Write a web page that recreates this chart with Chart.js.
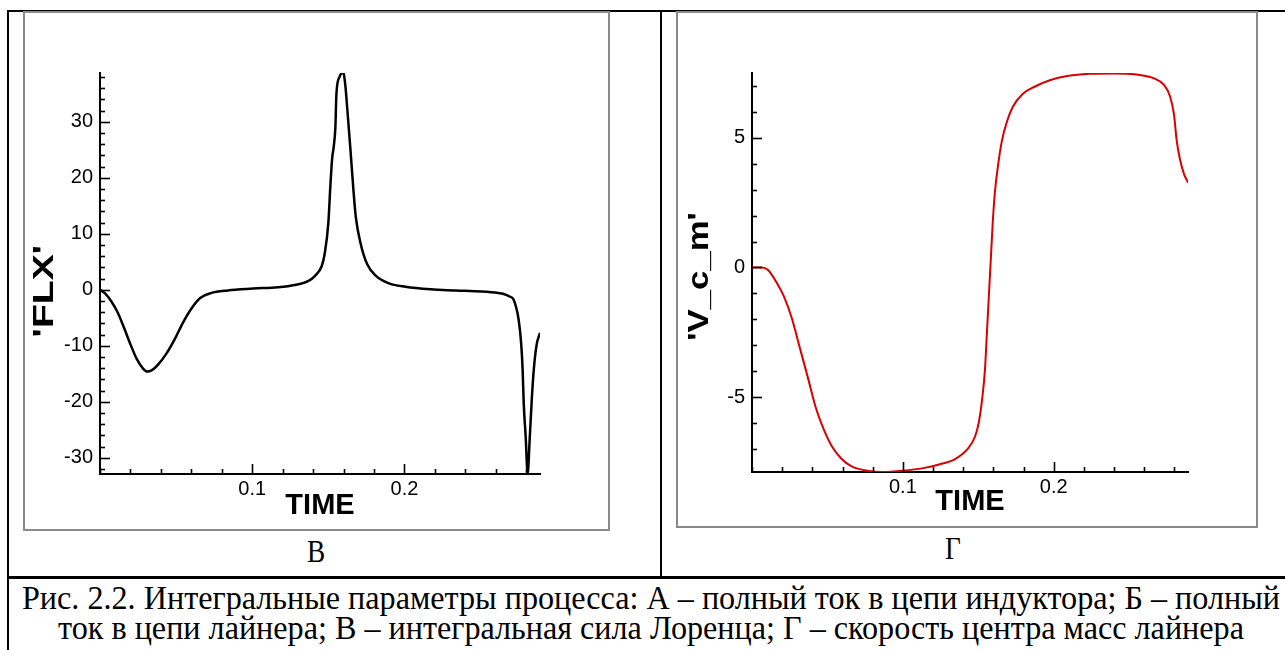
<!DOCTYPE html>
<html lang="ru">
<head>
<meta charset="utf-8">
<title>Рис. 2.2</title>
<script src="https://cdn.jsdelivr.net/npm/chart.js@4/dist/chart.umd.min.js"></script>
<style>
  html, body { margin: 0; padding: 0; background: #fff; }
  body { width: 1285px; height: 650px; position: relative; overflow: hidden; }
  .rule { position: absolute; background: #000; }
  .frame { position: absolute; box-sizing: border-box; border: 2px solid #8a8a8a; }
  canvas { position: absolute; }
  .panel { position: absolute; font-family: "Liberation Serif", "Times New Roman", serif;
           font-size: 31px; line-height: 31px; color: #000; transform: translateX(-50%) scaleX(0.88); }
  .cap { position: absolute; left: 0; width: 1302px; text-align: center; white-space: nowrap;
         font-family: "Liberation Serif", "Times New Roman", serif; color: #000;
         transform-origin: 651px 50%; }
</style>
</head>
<body>
<!-- table rules -->
<div class="rule" style="left:7px; top:10px; width:1278px; height:2px;"></div>
<div class="rule" style="left:7px; top:10px; width:2px; height:640px;"></div>
<div class="rule" style="left:660px; top:10px; width:2px; height:567px;"></div>
<div class="rule" style="left:7px; top:576px; width:1278px; height:3px;"></div>

<!-- plot frames -->
<div class="frame" style="left:23px; top:11px; width:587px; height:520px;"></div>
<div class="frame" style="left:676px; top:11px; width:582px; height:517px;"></div>

<canvas id="flxChart" width="583" height="516" style="left:25px; top:13px;"></canvas>
<canvas id="vcmChart" width="578" height="513" style="left:678px; top:13px;"></canvas>

<div class="panel" style="left:316px; top:536px;">В</div>
<div class="panel" style="left:953px; top:533px;">Г</div>

<div class="cap" id="cap1">Рис. 2.2. Интегральные параметры процесса: А – полный ток в цепи индуктора; Б – полный</div>
<div class="cap" id="cap2">ток в цепи лайнера; В – интегральная сила Лоренца; Г – скорость центра масс лайнера</div>

<script>
// Integral Lorentz force 'FLX' versus TIME
const flxTime = [0, 0.0033, 0.0075, 0.0117, 0.0158, 0.0200, 0.0242, 0.0283, 0.0310, 0.0339,
  0.0380, 0.0436, 0.0492, 0.0547, 0.0603, 0.0658, 0.0728, 0.0839, 0.1006, 0.1170,
  0.1280, 0.1367, 0.1414, 0.1456, 0.1475, 0.1500, 0.1513, 0.1525, 0.1535, 0.1546,
  0.1553, 0.1572, 0.1592, 0.1600, 0.1612, 0.1625, 0.1645, 0.1664, 0.1680, 0.1714,
  0.1756, 0.1811, 0.1894, 0.2006, 0.2172, 0.2339, 0.2506, 0.2617, 0.2651, 0.2690,
  0.2717, 0.2750, 0.2766, 0.2776, 0.2783, 0.2796, 0.2809, 0.2822, 0.2836, 0.2849,
  0.2868, 0.2890];
const flxValue = [0, -0.66, -2.1, -4.1, -6.8, -9.75, -12.4, -14.07, -14.6, -14.4,
  -13.4, -11.4, -8.76, -5.77, -3.25, -1.46, -0.6, -0.13, 0.2, 0.46,
  0.86, 1.53, 2.52, 4.2, 6.3, 12.0, 18.5, 23.5, 25.5, 29.0,
  35.0, 37.9, 38.7, 38.6, 36.3, 32.0, 25.0, 18.0, 13.0, 8.0,
  4.5, 2.52, 1.19, 0.53, 0.07, -0.13, -0.33, -0.6, -0.75, -1.2,
  -1.8, -5.4, -9.5, -14.3, -20.2, -26.3, -32.9, -26.8, -19.6, -14.3,
  -9.8, -7.7];

// Liner centre-of-mass velocity 'V_c_m' versus TIME
const vcmTime = [0, 0.0066, 0.0106, 0.0158, 0.0210, 0.0264, 0.0317, 0.0370, 0.0422, 0.0475,
  0.0528, 0.0594, 0.0660, 0.0765, 0.0870, 0.1000, 0.1135, 0.1240, 0.1346, 0.1425,
  0.1478, 0.1504, 0.1525, 0.1544, 0.1557, 0.1570, 0.1583, 0.1596, 0.1610, 0.1630,
  0.1657, 0.1689, 0.1728, 0.1794, 0.1873, 0.1979, 0.2110, 0.2243, 0.2400, 0.2560,
  0.2665, 0.2731, 0.2770, 0.2797, 0.2815, 0.2836, 0.2863, 0.2892];
const vcmValue = [0, 0, -0.1, -0.53, -1.1, -1.96, -3.1, -4.24, -5.39, -6.24,
  -6.89, -7.39, -7.67, -7.84, -7.89, -7.84, -7.74, -7.6, -7.39, -7.03,
  -6.53, -5.96, -5.1, -3.96, -2.53, -1.1, 0.33, 1.76, 2.9, 3.9,
  4.9, 5.61, 6.19, 6.69, 6.97, 7.23, 7.4, 7.47, 7.48, 7.43,
  7.29, 7.04, 6.61, 5.9, 4.9, 4.19, 3.61, 3.26];

// Axis ranges and tick spacing
const timeRange = [0, 0.2890];
const flxRange = [-32.9, 38.7];
const vcmRange = [-7.89, 7.5];
const timeLabels = ['0.1', '0.2'];
const flxLabelStep = 10;
const vcmLabelStep = 5;

const sansFamily = '"Liberation Sans", Arial, Helvetica, sans-serif';

// Inward tick marks (long on labelled ticks) and the axis titles
const axisDecor = {
  id: 'axisDecor',
  afterDraw(chart, args, opts) {
    const { ctx, chartArea: a, scales } = chart;
    ctx.save();
    ctx.strokeStyle = '#000';
    ctx.lineWidth = 1.6;
    ['x', 'y'].forEach(id => {
      const s = scales[id];
      s.ticks.forEach(t => {
        const len = t.label !== '' ? opts.majorLen : opts.minorLen;
        const p = Math.round(s.getPixelForValue(t.value)) + 0.5;
        ctx.beginPath();
        if (id === 'x') { ctx.moveTo(p, a.bottom); ctx.lineTo(p, a.bottom - len); }
        else { ctx.moveTo(a.left, p); ctx.lineTo(a.left + len, p); }
        ctx.stroke();
      });
    });
    ctx.fillStyle = '#000';
    ctx.font = 'bold 29px ' + sansFamily;
    ctx.textAlign = 'center';
    ctx.textBaseline = 'middle';
    ctx.fillText(opts.xTitle, (a.left + a.right) / 2, a.bottom + opts.xTitleGap);
    ctx.translate(a.left - opts.yTitleGap, a.top + opts.yTitleFrac * (a.bottom - a.top));
    ctx.rotate(-Math.PI / 2);
    ctx.scale(opts.yTitleStretch, 1);
    ctx.fillText(opts.yTitle, 0, 0);
    ctx.restore();
  }
};

function makeChart(canvasId, times, values, cfg) {
  const points = times.map((t, i) => ({ x: t, y: values[i] }));
  return new Chart(document.getElementById(canvasId), {
    type: 'line',
    data: {
      datasets: [{
        data: points,
        borderColor: cfg.color,
        borderWidth: cfg.lineWidth,
        pointRadius: 0,
        fill: false,
        cubicInterpolationMode: 'monotone'
      }]
    },
    options: {
      responsive: false,
      animation: false,
      events: [],
      layout: { padding: { top: cfg.padTop, right: cfg.padRight, left: 0, bottom: 0 } },
      plugins: {
        legend: { display: false },
        tooltip: { enabled: false },
        axisDecor: {
          majorLen: 10, minorLen: 5,
          xTitle: 'TIME', xTitleGap: cfg.xTitleGap,
          yTitle: cfg.yTitle, yTitleGap: cfg.yTitleGap,
          yTitleFrac: cfg.yTitleFrac, yTitleStretch: cfg.yTitleStretch
        }
      },
      scales: {
        x: {
          type: 'linear',
          min: timeRange[0], max: timeRange[1],
          border: { display: true, color: '#000', width: 2 },
          grid: { display: false, drawTicks: false },
          ticks: {
            stepSize: 0.02, includeBounds: false, autoSkip: false, maxRotation: 0,
            padding: 3, color: '#000', font: { family: sansFamily, size: 20 },
            callback: v => timeLabels.find(l => Math.abs(parseFloat(l) - v) < 1e-9) || ''
          },
          afterFit: s => { s.height = cfg.xAxisHeight; }
        },
        y: {
          type: 'linear',
          min: cfg.yRange[0], max: cfg.yRange[1],
          border: { display: true, color: '#000', width: 2 },
          grid: { display: false, drawTicks: false },
          ticks: {
            stepSize: cfg.yStep, includeBounds: false, autoSkip: false,
            padding: 7, color: '#000', font: { family: sansFamily, size: 20 },
            callback: v => (Math.abs(v % cfg.yLabelStep) < 1e-9 ? String(v) : '')
          },
          afterFit: s => { s.width = cfg.yAxisWidth; }
        }
      }
    },
    plugins: [axisDecor]
  });
}

makeChart('flxChart', flxTime, flxValue, {
  color: '#000', lineWidth: 2.5,
  yRange: flxRange, yStep: 2, yLabelStep: flxLabelStep,
  yTitle: "'FLX'", yTitleGap: 55, yTitleFrac: 0.544, yTitleStretch: 1.35,
  xTitleGap: 32,
  padTop: 60, padRight: 68, yAxisWidth: 75, xAxisHeight: 55
});

makeChart('vcmChart', vcmTime, vcmValue, {
  color: '#d80000', lineWidth: 2,
  yRange: vcmRange, yStep: 1, yLabelStep: vcmLabelStep,
  yTitle: "'V_c_m'", yTitleGap: 52, yTitleFrac: 0.51, yTitleStretch: 1.2,
  xTitleGap: 30,
  padTop: 60, padRight: 68, yAxisWidth: 74, xAxisHeight: 54
});

// Caption: tall serif, narrowed so the first line spans the table width
(function () {
  const size = 33;
  const c1 = document.getElementById('cap1');
  const c2 = document.getElementById('cap2');
  const m = document.createElement('canvas').getContext('2d');
  m.font = size + 'px "Liberation Serif", "Times New Roman", serif';
  const k = 1258 / m.measureText(c1.textContent).width;
  [[c1, 610], [c2, 640]].forEach(([el, baseline]) => {
    el.style.fontSize = size + 'px';
    el.style.lineHeight = size + 'px';
    el.style.top = (baseline - 0.8375 * size) + 'px';
    el.style.transform = 'scaleX(' + k + ')';
  });
})();
</script>
</body>
</html>
